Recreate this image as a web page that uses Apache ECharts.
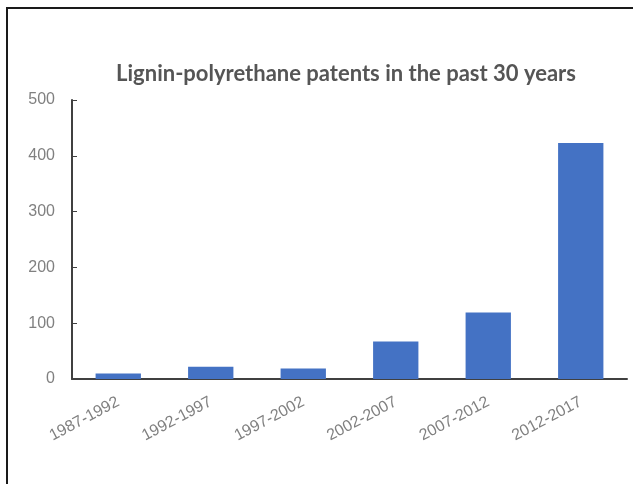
<!DOCTYPE html>
<html><head><meta charset="utf-8">
<script src="https://cdn.jsdelivr.net/npm/echarts@6/dist/echarts.min.js"></script>
<style>
html,body{margin:0;padding:0;background:#fff;}
#frame{position:absolute;left:6px;top:7px;width:640px;height:490px;border-top:2px solid #1a1a1a;border-left:2px solid #1a1a1a;box-sizing:border-box;}
#main{position:absolute;left:0;top:0;width:633px;height:484px;}
</style></head>
<body>
<div id="frame"></div>
<div id="main"></div>
<script>
const titleText = 'Lignin-polyrethane patents in the past 30 years';
const categories = ['1987-1992','1992-1997','1997-2002','2002-2007','2007-2012','2012-2017'];
const patents = [10, 22, 19, 67, 119, 423];
const yTicks = [0, 100, 200, 300, 400, 500];

const chart = echarts.init(document.getElementById('main'), null, {renderer:'canvas'});
chart.setOption({
  backgroundColor: 'transparent',
  animation: false,
  title: {
    text: titleText,
    left: 341, textAlign: 'center', top: 58,
    textStyle: {fontFamily: 'Lato', fontWeight: 'bold', fontSize: 22, color: '#555555'}
  },
  grid: {left: 72, right: 6, top: 100, bottom: 105, containLabel: false},
  xAxis: {
    type: 'category',
    data: categories,
    axisLine: {lineStyle: {color: '#404040', width: 2}},
    axisTick: {show: false},
    axisLabel: {rotate: 28, fontFamily: 'Liberation Sans', fontSize: 16, color: '#808080', margin: 22, interval: 0}
  },
  yAxis: {
    type: 'value',
    min: yTicks[0], max: yTicks[yTicks.length-1], interval: 100,
    axisLine: {show: true, lineStyle: {color: '#404040', width: 2}},
    axisTick: {show: true, inside: true, length: 5, lineStyle: {color: '#404040'}},
    splitLine: {show: false},
    axisLabel: {fontFamily: 'Liberation Sans', fontSize: 16, color: '#808080', margin: 17}
  },
  series: [{
    type: 'bar',
    data: patents,
    barWidth: '49%',
    itemStyle: {color: '#4472C4'}
  }]
});
</script>
</body></html>
